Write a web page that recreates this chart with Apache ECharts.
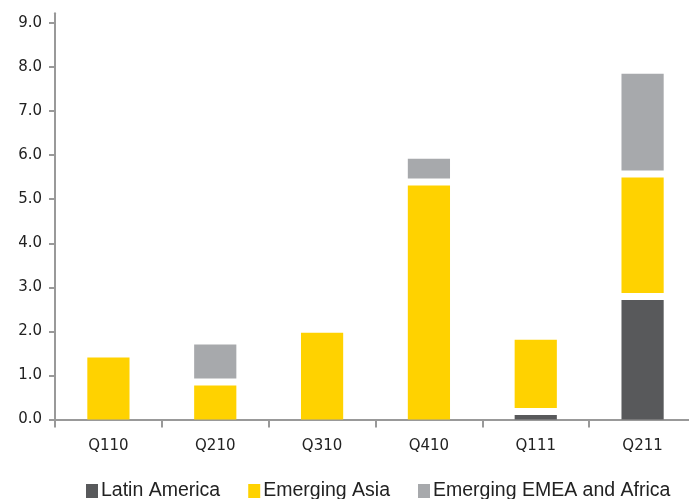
<!DOCTYPE html>
<html>
<head>
<meta charset="utf-8">
<script src="https://cdn.jsdelivr.net/npm/echarts@6/dist/echarts.min.js"></script>
<style>
html,body{margin:0;padding:0;background:#fff;}
#chart{width:689px;height:499px;}
</style>
</head>
<body>
<div id="chart"></div>
<script>
// Data
const categories = ['Q110', 'Q210', 'Q310', 'Q410', 'Q111', 'Q211'];
const latinAmerica = [0, 0, 0, 0, 0.18, 2.79];
const emergingAsia = [1.41, 0.85, 1.97, 5.39, 1.63, 2.78];
const emergingEmeaAfrica = [0, 0.85, 0, 0.53, 0, 2.28];
const yTickLabels = [0, 1, 2, 3, 4, 5, 6, 7, 8, 9];

const seriesNames = ['Latin America', 'Emerging Asia', 'Emerging EMEA and Africa'];
const seriesValues = [latinAmerica, emergingAsia, emergingEmeaAfrica];
const colors = ['#58595B', '#FFD200', '#A7A9AC'];
const GAP = 7;

// stacked totals
const totals = categories.map((c, i) => seriesValues.reduce((s, arr) => s + arr[i], 0));

const series = seriesValues.map((vals, si) => {
  const data = vals.map((v, i) => {
    let base = 0;
    for (let k = 0; k < si; k++) base += seriesValues[k][i];
    return [i, base, base + v];
  });
  return {
    name: seriesNames[si],
    type: 'custom',
    itemStyle: { color: colors[si] },
    encode: { x: 0, y: [1, 2] },
    data: data,
    renderItem: function (params, api) {
      const i = api.value(0);
      const lo = api.value(1);
      const hi = api.value(2);
      if (hi - lo <= 0) return null;
      const pLo = api.coord([i, lo]);
      const pHi = api.coord([i, hi]);
      const w = api.size([1, 0])[0] * 0.395;
      let yBottom = pLo[1];
      let yTop = pHi[1];
      if (lo > 0) yBottom -= GAP / 2;
      if (hi < totals[i] - 1e-9) yTop += GAP / 2;
      if (yBottom - yTop <= 0) return null;
      return {
        type: 'rect',
        shape: { x: pLo[0] - w / 2, y: yTop, width: w, height: yBottom - yTop },
        style: { fill: colors[si] }
      };
    }
  };
});

const chart = echarts.init(document.getElementById('chart'), null, { renderer: 'canvas' });
chart.setOption({
  animation: false,
  backgroundColor: '#ffffff',
  grid: { left: 55, top: 13.3, width: 641, bottom: 79.5, containLabel: false, outerBoundsMode: 'none' },
  legend: {
    data: seriesNames.map((n, i) => ({ name: n, itemStyle: { color: colors[i] } })),
    left: 86,
    top: 481,
    icon: 'rect',
    itemWidth: 12,
    itemHeight: 14,
    itemGap: 28,
    padding: 0,
    textStyle: { fontFamily: 'Liberation Sans', fontSize: 19.5, color: '#222', padding: [0, 0, 0, -2] }
  },
  xAxis: {
    type: 'category',
    data: categories,
    boundaryGap: true,
    axisLine: { show: true, lineStyle: { color: '#999999', width: 2 } },
    axisTick: { show: true, alignWithLabel: false, length: 8, lineStyle: { color: '#999999', width: 2 } },
    axisLabel: { fontFamily: 'DejaVu Sans', fontSize: 15, color: '#222', margin: 19 },
    splitLine: { show: false }
  },
  yAxis: {
    type: 'value',
    min: 0,
    max: 9.22,
    interval: 1,
    axisLine: { show: true, lineStyle: { color: '#999999', width: 2 } },
    axisTick: { show: true, length: 6, customValues: yTickLabels, lineStyle: { color: '#999999', width: 2 } },
    axisLabel: {
      customValues: yTickLabels,
      formatter: v => v.toFixed(1),
      fontFamily: 'DejaVu Sans', fontSize: 15, color: '#222', margin: 13
    },
    splitLine: { show: false }
  },
  series: series
});
</script>
</body>
</html>
